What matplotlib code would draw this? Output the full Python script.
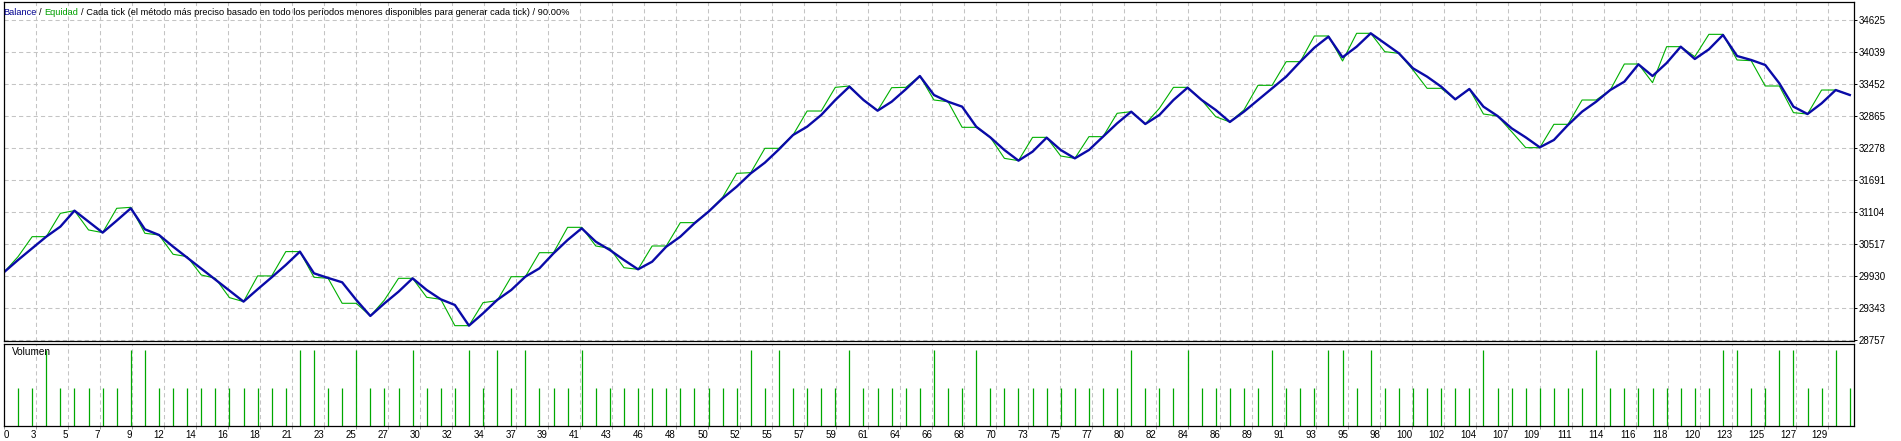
import numpy as np
import matplotlib
matplotlib.use('Agg')
import matplotlib.pyplot as plt

plt.rcParams.update({'font.family': ['Liberation Sans', 'DejaVu Sans'], 'font.size': 7})

#%%
""" data read off the tester graph (trade number -> account value) """
balance = [30000, 30225, 30439, 30652, 30836, 31129, 30927, 30726, 30946, 31172,
           30787, 30683, 30469, 30268, 30066, 29864, 29663, 29461, 29687, 29907,
           30133, 30378, 29980, 29895, 29815, 29492, 29198, 29429, 29643, 29888,
           29674, 29503, 29399, 29020, 29246, 29491, 29674, 29918, 30071, 30346,
           30591, 30805, 30560, 30407, 30224, 30053, 30193, 30468, 30652, 30896,
           31110, 31355, 31569, 31813, 32009, 32253, 32516, 32669, 32883, 33158,
           33403, 33158, 32962, 33127, 33354, 33598, 33250, 33127, 33036, 32669,
           32473, 32241, 32046, 32211, 32467, 32241, 32088, 32241, 32486, 32730,
           32944, 32718, 32883, 33158, 33384, 33158, 32975, 32755, 32944, 33158,
           33372, 33586, 33861, 34118, 34320, 33941, 34136, 34381, 34197, 34014,
           33739, 33586, 33403, 33170, 33360, 33036, 32865, 32639, 32473, 32290,
           32425, 32700, 32944, 33127, 33341, 33494, 33812, 33598, 33836, 34136,
           33910, 34087, 34350, 33965, 33892, 33800, 33464, 33036, 32901, 33097,
           33341, 33250]

equity = [30000, 30286, 30652, 30652, 31080, 31129, 30775, 30726, 31172, 31190,
          30714, 30683, 30329, 30286, 29950, 29889, 29534, 29461, 29932, 29932,
          30378, 30378, 29907, 29889, 29430, 29430, 29198, 29490, 29888, 29888,
          29540, 29503, 29020, 29020, 29442, 29478, 29918, 29918, 30358, 30358,
          30823, 30823, 30481, 30438, 30083, 30053, 30481, 30481, 30909, 30909,
          31110, 31373, 31813, 31826, 32272, 32272, 32516, 32956, 32956, 33390,
          33415, 33158, 32962, 33384, 33390, 33598, 33158, 33127, 32657, 32657,
          32473, 32088, 32046, 32473, 32473, 32131, 32088, 32486, 32486, 32914,
          32944, 32718, 33005, 33390, 33390, 33158, 32852, 32755, 32975, 33427,
          33427, 33861, 33861, 34332, 34332, 33873, 34381, 34381, 34044, 34014,
          33708, 33372, 33372, 33170, 33360, 32901, 32865, 32577, 32284, 32284,
          32712, 32712, 33158, 33158, 33341, 33818, 33818, 33476, 34136, 34136,
          33953, 34362, 34362, 33892, 33879, 33415, 33415, 32926, 32901, 33341,
          33341, 33250]

# lots per deal, deals 1..131
volume = [1, 1, 2, 1, 1, 1, 1, 1, 2, 2,
          1, 1, 1, 1, 1, 1, 1, 1, 1, 1,
          2, 2, 1, 1, 2, 1, 1, 1, 2, 1,
          1, 1, 2, 1, 2, 1, 2, 1, 1, 1,
          2, 1, 1, 1, 1, 1, 1, 1, 1, 1,
          1, 1, 2, 1, 2, 1, 1, 1, 1, 2,
          1, 1, 1, 1, 1, 2, 1, 1, 2, 1,
          1, 1, 1, 1, 1, 1, 1, 1, 1, 2,
          1, 1, 1, 2, 1, 1, 1, 1, 1, 2,
          1, 1, 1, 2, 2, 1, 2, 1, 1, 1,
          1, 1, 1, 1, 2, 1, 1, 1, 1, 1,
          1, 1, 2, 1, 1, 1, 1, 1, 1, 1,
          1, 2, 2, 1, 1, 2, 2, 1, 1, 2,
          1]

xlabels = [0, 3, 5, 7, 9, 12, 14, 16, 18, 21, 23, 25, 27, 30, 32, 34, 37, 39, 41, 43,
           46, 48, 50, 52, 55, 57, 59, 61, 64, 66, 68, 70, 73, 75, 77, 80, 82, 84, 86, 89,
           91, 93, 95, 98, 100, 102, 104, 107, 109, 111, 114, 116, 118, 120, 123, 125, 127, 129]
ylevels = [28757, 29343, 29930, 30517, 31104, 31691, 32278, 32865, 33452, 34039, 34625]

title_parts = [("Balance", '#000090'), ("/", '#000000'), ("Equidad", '#00a000'),
               ("/ Cada tick (el método más preciso basado en todo los períodos menores "
                "disponibles para generar cada tick) / 90.00%", '#000000')]

#%%
""" plot """
W, H = 1901, 441
px = 14.09                      # pixels per deal
step = 586.8 / 32               # account units per pixel
trade = np.arange(len(balance))
grid_x = np.arange(len(xlabels)) * 32 / px
xmax = 1850 / px
gridkw = dict(color='#c4c4c4', lw=0.75, ls=(0, (4, 3)))
tfs = 6.7                       # header font size
space = 0.278 * tfs * 100 / 72  # width of a blank, pixels

fig = plt.figure(figsize=(W / 100, H / 100), dpi=100, facecolor='w')
ax = fig.add_axes([4 / W, 1 - 341 / H, 1850 / W, 339 / H])
axv = fig.add_axes([4 / W, 1 - 425.5 / H, 1850 / W, 82 / H])

ax.plot(trade, equity, color='#00b000', lw=0.8)
ax.plot(trade, balance, color='#0a0aa8', lw=1.7)
ax.set_xlim(0, xmax)
ax.set_ylim(ylevels[0] - step, ylevels[-1] + 18 * step)
ax.set_xticks(grid_x)
ax.set_yticks(ylevels)
ax.grid(True, **gridkw)
ax.tick_params(axis='x', length=0, labelbottom=False)
ax.yaxis.tick_right()
ax.tick_params(axis='y', length=2, width=0.7, pad=1.5, labelsize=7)

axv.vlines(trade[1:], 0, volume, color='#00a800', lw=0.9)
axv.set_xlim(0, xmax)
axv.set_ylim(0, 2 * 82 / 76)
axv.set_yticks([])
axv.set_xticks(grid_x, [str(v) for v in xlabels])
axv.grid(True, axis='x', **gridkw)
axv.tick_params(axis='x', length=2.5, width=0.7, color='#a0a0a0', pad=1, labelsize=7)
for i, lab in enumerate(axv.get_xticklabels()):
    lab.set_horizontalalignment('left' if i == 0 else 'right')
axv.text(8 / 1850, 1 - 8.5 / 82, "Volumen", transform=axv.transAxes, va='center', ha='left', fontsize=7.2)

for a in (ax, axv):
    for s in a.spines.values():
        s.set_linewidth(0.9)
        s.set_color('black')

# multi-coloured header line: measure each piece and put the next one after it
renderer = fig.canvas.get_renderer()
x0 = 3.0
for txt, col in title_parts:
    t = fig.text(x0 / W, 1 - 12.7 / H, txt, color=col, va='center', ha='left', fontsize=tfs)
    x0 = t.get_window_extent(renderer).x1 + space

fig.savefig('out.png', dpi=100, facecolor='w')
